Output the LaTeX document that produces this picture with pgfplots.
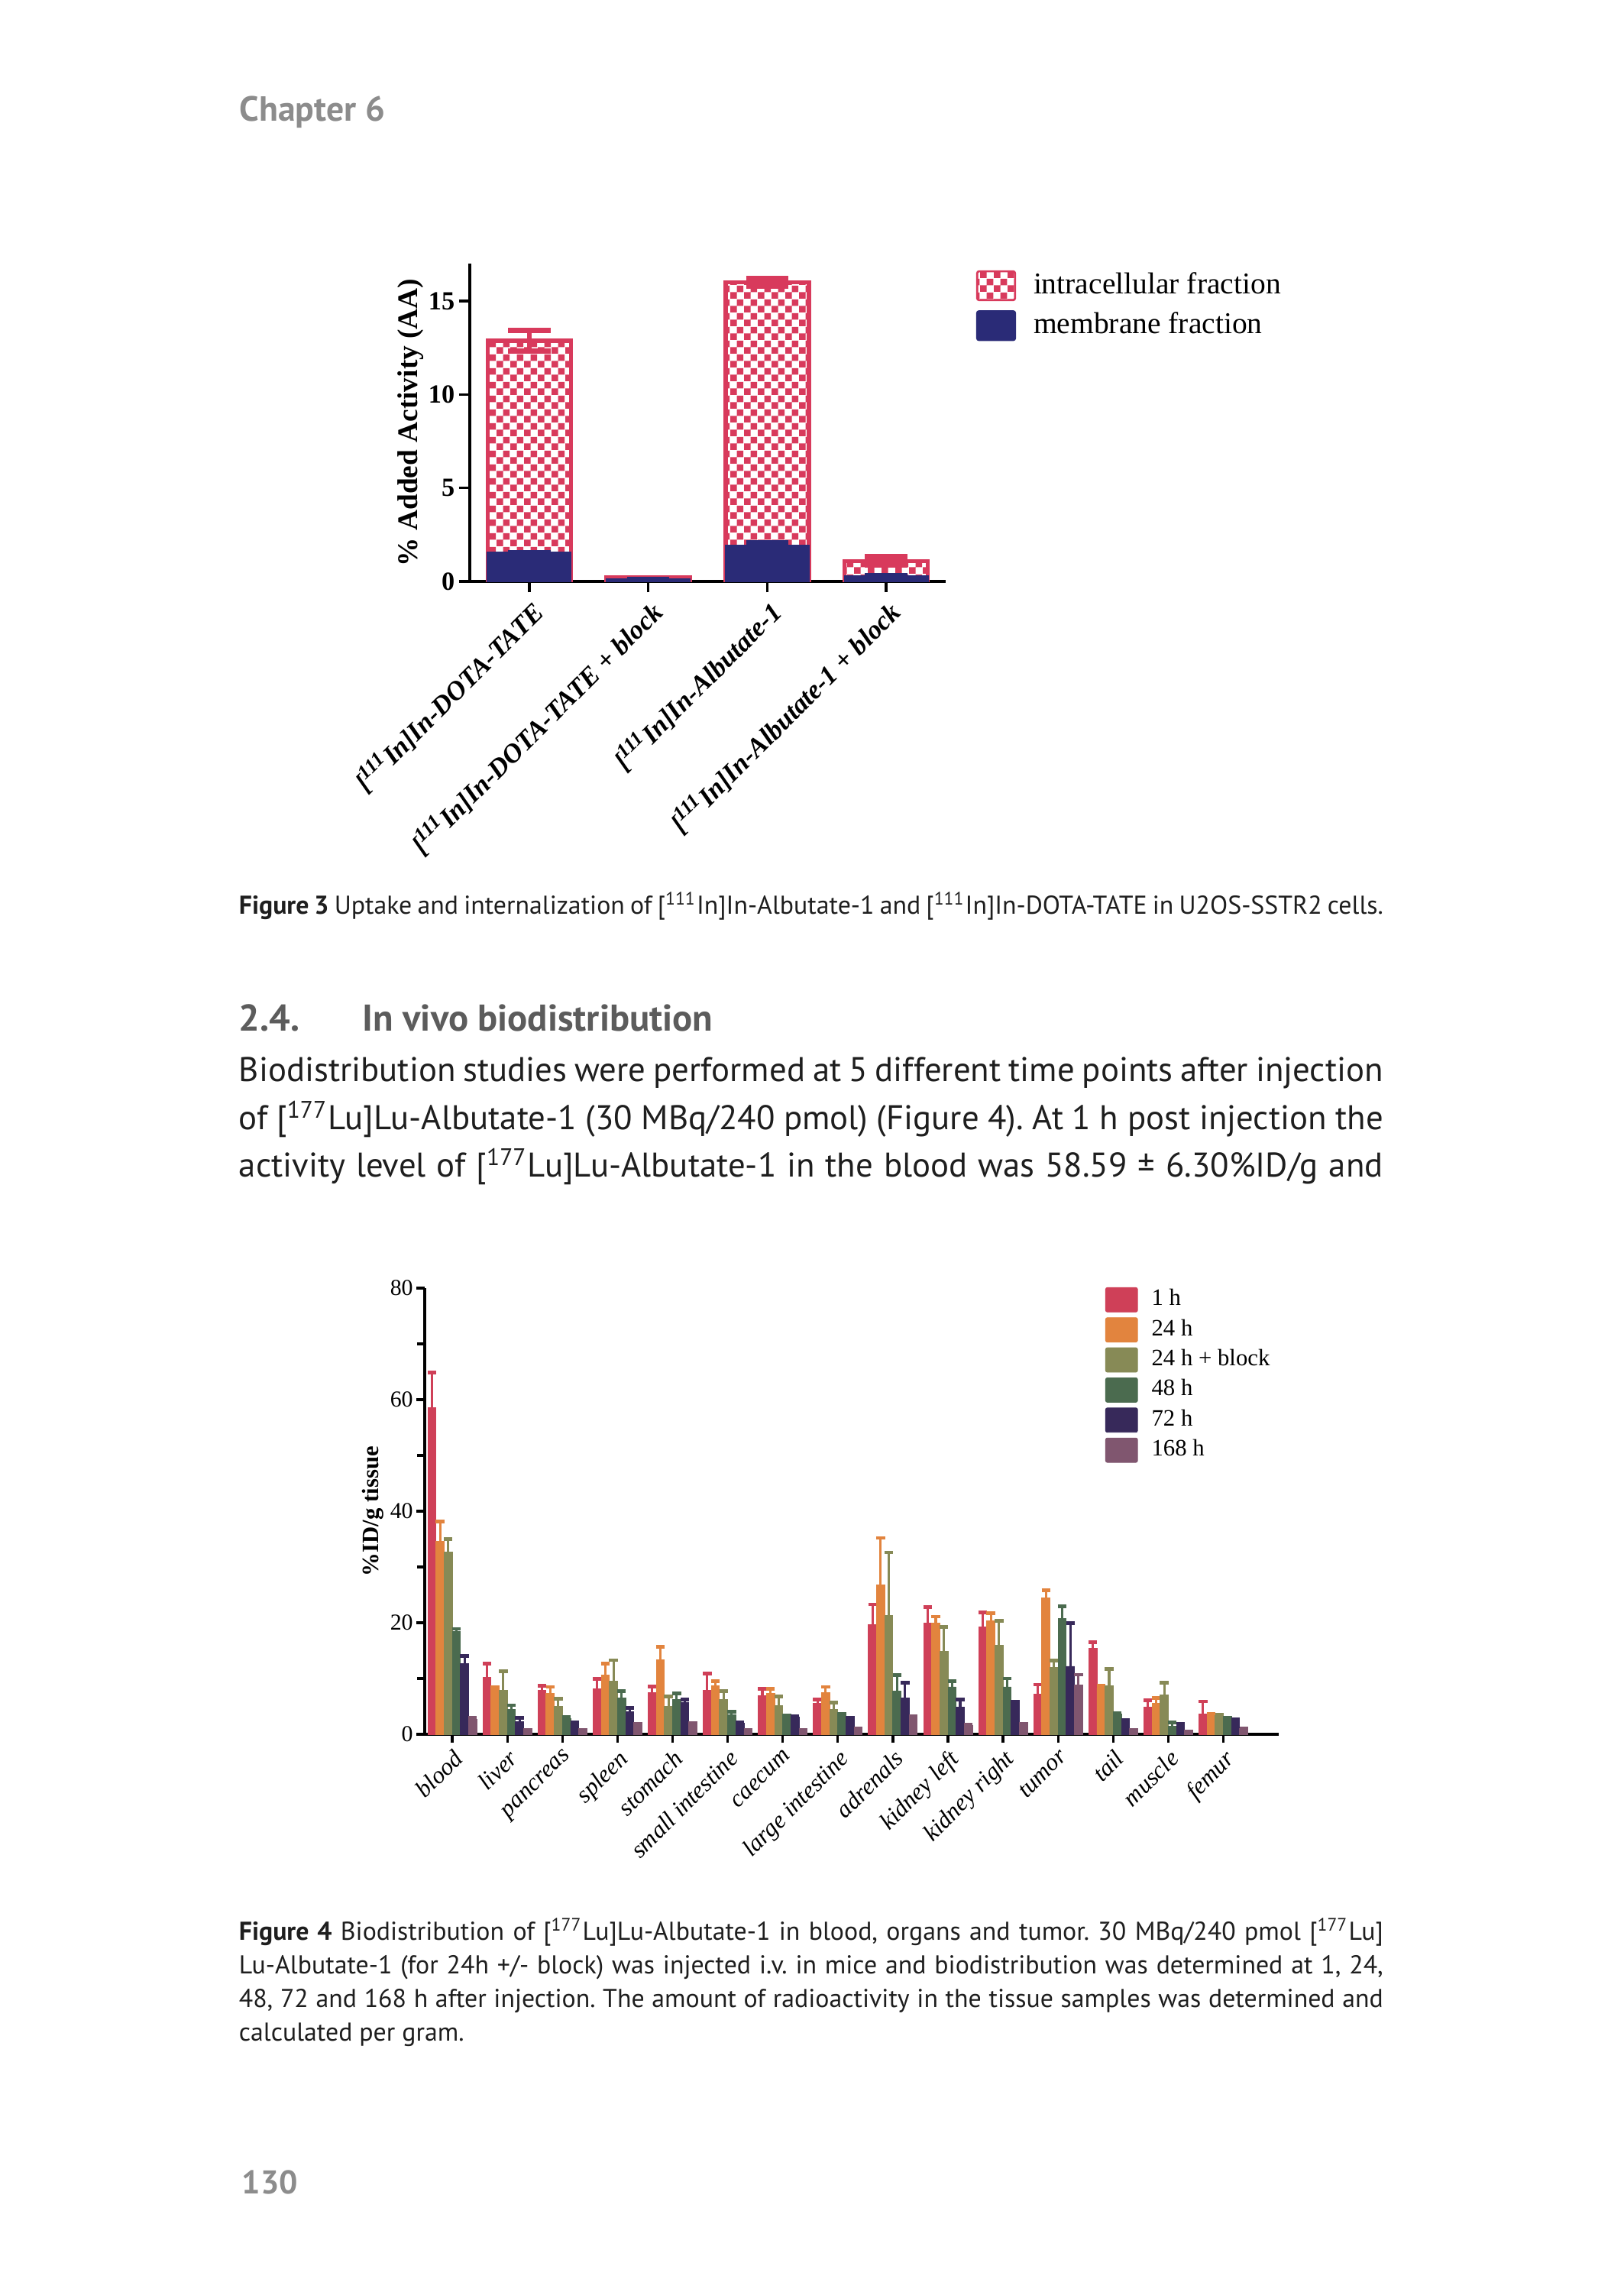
\documentclass[border=0pt]{standalone}
\usepackage{pgfplots}
\pgfplotsset{compat=1.18}
\usetikzlibrary{patterns}
\usepackage{fontspec}
\setmainfont{Liberation Serif}
\newfontfamily\pagefont{PT Sans}
\frenchspacing
\definecolor{crimT}{HTML}{D83A5C}
\definecolor{navyT}{HTML}{2A2B77}
\definecolor{cA}{HTML}{CF4058}
\definecolor{cB}{HTML}{E2843E}
\definecolor{cC}{HTML}{878A56}
\definecolor{cD}{HTML}{4B6B4F}
\definecolor{cE}{HTML}{37295A}
\definecolor{cF}{HTML}{80566F}
\definecolor{chapgray}{HTML}{8C8C8C}
\definecolor{headgray}{HTML}{5C5C5C}
\definecolor{bodyblack}{HTML}{1E1E1E}
\pgfdeclarepatternformonly{smallcheck}{\pgfpointorigin}{\pgfqpoint{4pt}{4pt}}{\pgfqpoint{4pt}{4pt}}{%
  \pgfpathrectangle{\pgfpointorigin}{\pgfqpoint{2pt}{2pt}}%
  \pgfpathrectangle{\pgfqpoint{2pt}{2pt}}{\pgfqpoint{2pt}{2pt}}%
  \pgfusepath{fill}}
\newlength{\pu}\setlength{\pu}{0.08mm}
\newcommand{\bodyfont}{\pagefont\fontsize{10.2}{12}\selectfont}
\newcommand{\capfont}{\pagefont\fontsize{7.7}{9}\selectfont}
\newcommand{\jline}[3]{\node[anchor=base west, inner sep=0pt, text=bodyblack] at (312,#1) {#2\makebox[1498\pu][s]{#3}};}
\newcommand{\sups}[1]{\textsuperscript{#1}}
\pgfplotsset{bbar/.style={fill=#1, draw=#1, line width=0.2pt,
  error bars/error bar style={#1, line width=0.7pt},
  error bars/error mark options={#1, rotate=90, line width=1.1pt, mark size=1.3pt}}}
\begin{document}
\begin{tikzpicture}
\path[use as bounding box, fill=white] (0,0) rectangle (170mm,-240mm);
\begin{scope}[x=\pu, y=-\pu]
\node[anchor=base west, inner sep=0pt, text=chapgray, font=\pagefont\bfseries\fontsize{10.4}{12}\selectfont] at (313,159) {Chapter 6};
\node[anchor=base west, inner sep=0pt, text=bodyblack] at (312,1197) {\capfont\makebox[1498\pu][s]{\textbf{Figure 3} Uptake and internalization of [\sups{111}In]In-Albutate-1 and [\sups{111}In]In-DOTA-TATE in U2OS-SSTR2 cells.}};
\node[anchor=base west, inner sep=0pt, text=headgray, font=\pagefont\bfseries\fontsize{11.1}{12}\selectfont] at (312,1350) {2.4.};
\node[anchor=base west, inner sep=0pt, text=headgray, font=\pagefont\bfseries\fontsize{11.1}{12}\selectfont] at (474,1350) {In vivo biodistribution};
\jline{1416}{\bodyfont}{Biodistribution studies were performed at 5 different time points after injection}
\jline{1479}{\bodyfont}{of [\sups{177}Lu]Lu-Albutate-1 (30 MBq/240 pmol) (Figure 4). At 1 h post injection the}
\jline{1541}{\bodyfont}{activity level of [\sups{177}Lu]Lu-Albutate-1 in the blood was 58.59 ± 6.30\%ID/g and}
\jline{2540}{\capfont}{\textbf{Figure 4} Biodistribution of [\sups{177}Lu]Lu-Albutate-1 in blood, organs and tumor. 30 MBq/240 pmol [\sups{177}Lu]}
\jline{2584}{\capfont}{Lu-Albutate-1 (for 24h +/- block) was injected i.v. in mice and biodistribution was determined at 1, 24,}
\jline{2628}{\capfont}{48, 72 and 168 h after injection. The amount of radioactivity in the tissue samples was determined and}
\node[anchor=base west, inner sep=0pt, text=bodyblack] at (312,2672) {\capfont calculated per gram.};
\node[anchor=base west, inner sep=0pt, text=chapgray, font=\pagefont\bfseries\fontsize{9.8}{12}\selectfont] at (316,2872) {130};
\end{scope}

% ---------- Figure 3 ----------
\begin{axis}[
  at={(49.2mm,-60.88mm)}, anchor=south west,
  scale only axis, width=49.84mm, height=33.28mm,
  xmin=-0.5, xmax=3.5, ymin=0, ymax=17,
  axis lines=left, axis line style={-, line width=0.8pt},
  tick align=outside, major tick length=3.3pt,
  tick style={black, line width=0.8pt},
  xtick={0,1,2,3}, ytick={0,5,10,15},
  xticklabels={{[\sups{111}In]In-DOTA-TATE},{[\sups{111}In]In-DOTA-TATE + block},{[\sups{111}In]In-Albutate-1},{[\sups{111}In]In-Albutate-1 + block}},
  x tick label style={rotate=45, anchor=north east, font=\fontsize{8}{9}\selectfont\bfseries\itshape, inner sep=1pt},
  y tick label style={font=\fontsize{7.8}{9}\selectfont\bfseries, inner sep=1pt},
  /pgf/number format/assume math mode=true,
  ylabel={\% Added Activity (AA)},
  ylabel style={at={(axis description cs:-0.125,0.5)}, anchor=center, font=\fontsize{8.5}{10}\selectfont\bfseries},
  error bars/y dir=both, error bars/y explicit,
  legend image code/.code={\draw[#1, line width=0.6pt, rounded corners=0.6pt] (0pt,-4.3pt) rectangle (11.3pt,4.3pt);},
  legend style={at={(1.0626,0.981)}, anchor=north west, draw=none, fill=none, inner sep=0pt,
    font=\fontsize{9}{10}\selectfont, nodes={inner sep=0pt}, row sep=2.7pt, column sep=5.2pt},
  legend cell align=left,
]
\addplot[ybar, bar width=0.7, bar shift=0pt, draw=crimT, line width=1.2pt, pattern=smallcheck, pattern color=crimT,
  error bars/error bar style={crimT, line width=1.3pt},
  error bars/error mark options={crimT, rotate=90, line width=1.6pt, mark size=6.3pt}]
  coordinates {(0,12.87) +- (0,0.55) (1,0.2) +- (0,0) (2,16.0) +- (0,0.19) (3,1.09) +- (0,0.23)};
\addlegendentry{intracellular fraction}
\addplot[ybar, bar width=0.7, bar shift=0pt, draw=navyT, fill=navyT, line width=0.4pt,
  error bars/error bar style={navyT, line width=1.3pt},
  error bars/error mark options={navyT, rotate=90, line width=1.6pt, mark size=6.3pt}]
  coordinates {(0,1.55) +- (0,0) (1,0.12) +- (0,0) (2,1.94) +- (0,0.13) (3,0.3) +- (0,0)};
\addlegendentry{membrane fraction}
\end{axis}

% ---------- Figure 4 ----------
\begin{axis}[
  at={(44.48mm,-181.6mm)}, anchor=south west,
  scale only axis, width=89.41mm, height=46.72mm,
  xmin=-0.5, xmax=15, ymin=0, ymax=80,
  axis lines=left, axis line style={-, line width=0.75pt},
  tick align=outside, major tick length=2.5pt, minor tick length=2.2pt,
  tick style={black, line width=0.75pt},
  xtick={0,...,14},
  xticklabels={blood,liver,pancreas,spleen,stomach,small intestine,caecum,large intestine,adrenals,kidney left,kidney right,tumor,tail,muscle,femur},
  ytick={0,20,40,60,80}, minor ytick={10,30,50,70},
  x tick label style={rotate=45, anchor=north east, font=\fontsize{7.2}{8}\selectfont\itshape, inner sep=1pt},
  y tick label style={font=\fontsize{6.8}{7}\selectfont, inner sep=0.8pt},
  /pgf/number format/assume math mode=true,
  ylabel={\%ID/g tissue},
  ylabel style={at={(axis description cs:-0.0608,0.5)}, anchor=center, font=\fontsize{7}{8}\selectfont\bfseries},
  ybar=0pt, bar width=0.148,
  error bars/y dir=plus, error bars/y explicit,
  legend image code/.code={\fill[#1, rounded corners=0.5pt] (0pt,-3.63pt) rectangle (9.5pt,3.63pt);},
  legend style={at={(0.7964,1.0034)}, anchor=north west, draw=none, fill=none, inner sep=0pt,
    font=\fontsize{7}{8}\selectfont, nodes={inner sep=0pt}, row sep=1.5pt, column sep=4.1pt},
  legend cell align=left,
]
\addplot[bbar=cA] coordinates {
 (0,58.59) +- (0,6.3) (1,10.2) +- (0,2.5) (2,7.9) +- (0,0.8) (3,8.1) +- (0,1.8) (4,7.5) +- (0,1.1)
 (5,7.9) +- (0,3.0) (6,6.9) +- (0,1.3) (7,5.5) +- (0,0.7) (8,19.7) +- (0,3.6) (9,20.0) +- (0,2.8)
 (10,19.2) +- (0,2.6) (11,7.2) +- (0,1.7) (12,15.4) +- (0,1.1) (13,4.9) +- (0,1.2) (14,3.6) +- (0,2.3)};
\addlegendentry{1 h}
\addplot[bbar=cB] coordinates {
 (0,34.6) +- (0,3.5) (1,8.3) +- (0,0.2) (2,7.4) +- (0,1.1) (3,10.6) +- (0,2.1) (4,13.4) +- (0,2.3)
 (5,8.7) +- (0,0.8) (6,7.4) +- (0,0.8) (7,7.5) +- (0,1.0) (8,26.8) +- (0,8.4) (9,20.0) +- (0,1.1)
 (10,20.3) +- (0,1.4) (11,24.5) +- (0,1.3) (12,8.3) +- (0,0.4) (13,5.5) +- (0,1.0) (14,3.6) +- (0,0.1)};
\addlegendentry{24 h}
\addplot[bbar=cC] coordinates {
 (0,32.7) +- (0,2.3) (1,7.9) +- (0,3.4) (2,5.0) +- (0,1.4) (3,9.5) +- (0,3.8) (4,5.0) +- (0,1.8)
 (5,6.2) +- (0,1.6) (6,5.2) +- (0,1.6) (7,4.5) +- (0,1.2) (8,21.3) +- (0,11.3) (9,14.9) +- (0,4.4)
 (10,16.0) +- (0,4.4) (11,12.0) +- (0,1.2) (12,8.7) +- (0,3.0) (13,7.0) +- (0,2.2) (14,3.4) +- (0,0.1)};
\addlegendentry{24 h + block}
\addplot[bbar=cD] coordinates {
 (0,18.4) +- (0,0.5) (1,4.4) +- (0,0.8) (2,2.8) +- (0,0.3) (3,6.5) +- (0,1.3) (4,6.2) +- (0,1.1)
 (5,3.5) +- (0,0.6) (6,3.2) +- (0,0.2) (7,3.4) +- (0,0.2) (8,7.8) +- (0,2.8) (9,8.5) +- (0,1.0)
 (10,8.5) +- (0,1.5) (11,20.8) +- (0,2.1) (12,3.6) +- (0,0.2) (13,1.5) +- (0,0.6) (14,2.8) +- (0,0.1)};
\addlegendentry{48 h}
\addplot[bbar=cE] coordinates {
 (0,12.7) +- (0,1.3) (1,2.3) +- (0,0.7) (2,2.0) +- (0,0.2) (3,4.1) +- (0,0.6) (4,5.7) +- (0,0.5)
 (5,2.0) +- (0,0.1) (6,3.1) +- (0,0.2) (7,2.8) +- (0,0.2) (8,6.5) +- (0,2.7) (9,4.9) +- (0,1.3)
 (10,5.7) +- (0,0.2) (11,12.2) +- (0,7.7) (12,2.5) +- (0,0.1) (13,1.8) +- (0,0.1) (14,2.5) +- (0,0.2)};
\addlegendentry{72 h}
\addplot[bbar=cF] coordinates {
 (0,2.7) +- (0,0.2) (1,0.7) +- (0,0.1) (2,0.6) +- (0,0.1) (3,1.7) +- (0,0.1) (4,1.8) +- (0,0.2)
 (5,0.6) +- (0,0.1) (6,0.6) +- (0,0.1) (7,1.0) +- (0,0.1) (8,3.0) +- (0,0.3) (9,1.6) +- (0,0.1)
 (10,1.7) +- (0,0.1) (11,8.9) +- (0,1.8) (12,0.7) +- (0,0.1) (13,0.4) +- (0,0.1) (14,1.0) +- (0,0.1)};
\addlegendentry{168 h}
\end{axis}
\end{tikzpicture}
\end{document}
